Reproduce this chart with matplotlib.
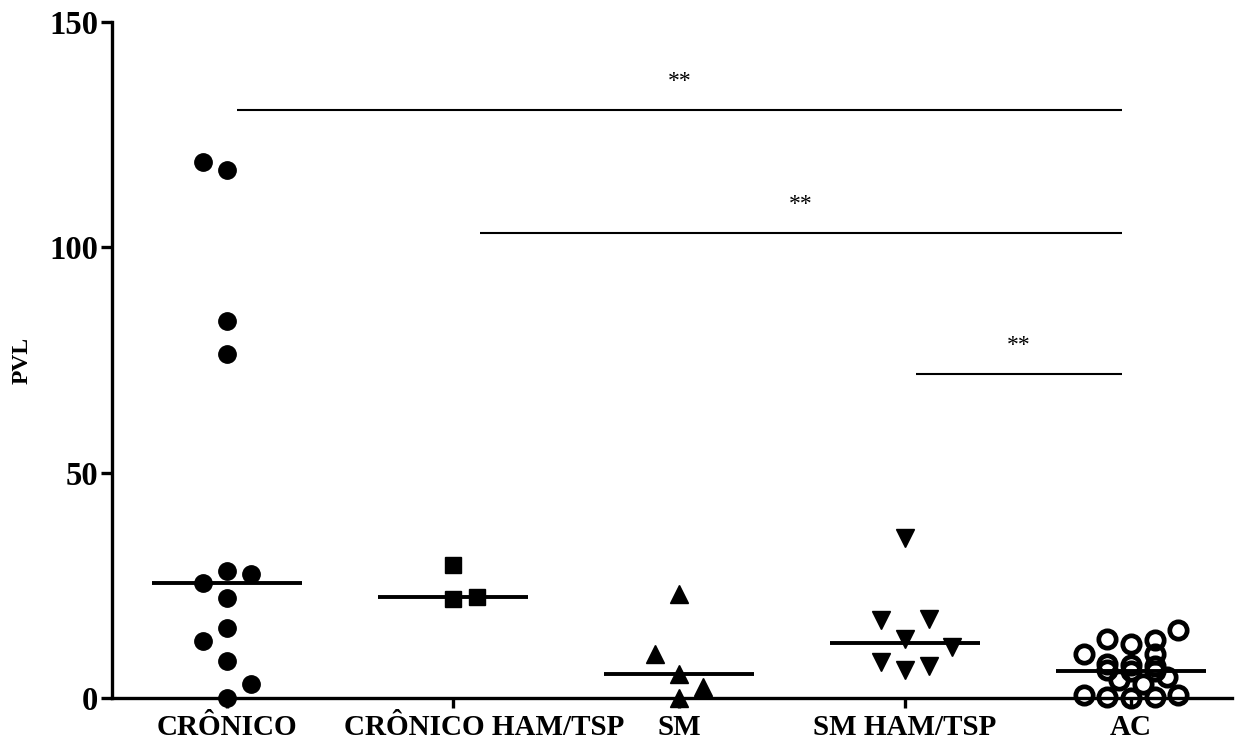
import matplotlib
matplotlib.use("Agg")
import matplotlib.pyplot as plt
import numpy as np

# ---- data ----
categories = ["CRÔNICO", "CRÔNICO HAM/TSP", "SM", "SM HAM/TSP", "AC"]

cronico = [118.9, 117.2, 83.6, 76.3, 28.2, 27.5, 25.5, 22.3, 15.5, 12.6, 8.1, 3.2, 0.0]
cronico_slot = [-1, 0, 0, 0, 0, 1, -1, 0, 0, -1, 0, 1, 0]

cronico_ham = [29.6, 21.9, 22.4]
cronico_ham_slot = [0, 0, 1]

sm = [23.0, 9.7, 5.3, 2.4, 0.0]
sm_slot = [0, -1, 0, 1, 0]

sm_ham = [35.6, 17.4, 17.6, 13.2, 11.3, 8.0, 6.3, 7.2]
sm_ham_slot = [0, -1, 1, 0, 2, -1, 0, 1]

ac = [15.0, 13.2, 11.9, 12.8, 9.8, 9.7, 7.5, 7.3, 7.2, 6.2, 6.0, 5.9,
      4.7, 3.9, 3.2, 0.6, 0.2, 0.0, 0.2, 0.6]
ac_slot = [2, -1, 0, 1, -2, 1, -1, 0, 1, -1, 0, 1,
           1.5, -0.5, 0.5, -2, -1, 0, 1, 2]

yticks = [0, 50, 100, 150]
ylabel = "PVL"

# significance bars
sig_start = [0.044, 1.12, 3.05]
sig_end = [3.96, 3.96, 3.96]
sig_y = [130.5, 103.2, 72.0]
sig_text = ["**", "**", "**"]

# ---- figure ----
fig = plt.figure(figsize=(12.46, 7.42), dpi=100)
ax = fig.add_axes([112 / 1246, 44 / 742, 1120 / 1246, 676 / 742])

serif = ["Liberation Serif", "DejaVu Serif"]
step = 0.105
groups = [
    (cronico, cronico_slot, dict(marker="o", ms=12.5, mfc="black", mec="black")),
    (cronico_ham, cronico_ham_slot, dict(marker="s", ms=11.5, mfc="black", mec="black")),
    (sm, sm_slot, dict(marker="^", ms=13, mfc="black", mec="black")),
    (sm_ham, sm_ham_slot, dict(marker="v", ms=13, mfc="black", mec="black")),
    (ac, ac_slot, dict(marker="o", ms=12.5, mfc="none", mec="black", mew=3.4)),
]
for i, (vals, slots, style) in enumerate(groups):
    xs = i + np.array(slots, dtype=float) * step
    ax.plot(xs, vals, linestyle="none", zorder=3, clip_on=False, **style)
    med = np.median(vals)
    ax.plot([i - 0.33, i + 0.33], [med, med], color="black", lw=2.8, zorder=4,
            solid_capstyle="butt")

for x0, x1, y, t in zip(sig_start, sig_end, sig_y, sig_text):
    ax.plot([x0, x1], [y, y], color="black", lw=1.5, solid_capstyle="butt")
    ax.text((x0 + x1) / 2, y + 6.3, t, ha="center", va="center",
            fontsize=17, family=serif)

ax.set_xlim(-0.509, 4.447)
ax.set_ylim(0, 150)
ax.set_xticks(range(len(categories)))
ax.set_xticklabels([])
# category labels (second one sits a little right of its tick, as in the reference)
label_shift_px = [0, 31, 0, 0, 0]
for i, (name, dx) in enumerate(zip(categories, label_shift_px)):
    ax.annotate(name, xy=(i, 0), xycoords=("data", "axes fraction"),
                xytext=(dx * 0.72, -26.5), textcoords="offset points",
                ha="center", va="baseline", fontsize=21, fontweight="bold",
                family=serif, annotation_clip=False)

ax.set_yticks(yticks)
ax.set_yticklabels([str(v) for v in yticks], fontsize=23.5, fontweight="bold", family=serif)
ax.set_ylabel(ylabel, fontsize=17, fontweight="bold", family=serif)
ax.yaxis.set_label_coords(-0.071, 0.5)

for s in ["top", "right"]:
    ax.spines[s].set_visible(False)
for s in ["left", "bottom"]:
    ax.spines[s].set_linewidth(2.4)
ax.tick_params(axis="y", length=8, width=2.4, pad=2)
ax.tick_params(axis="x", length=7, width=2.4, pad=7)

fig.savefig("out.png", dpi=100)
